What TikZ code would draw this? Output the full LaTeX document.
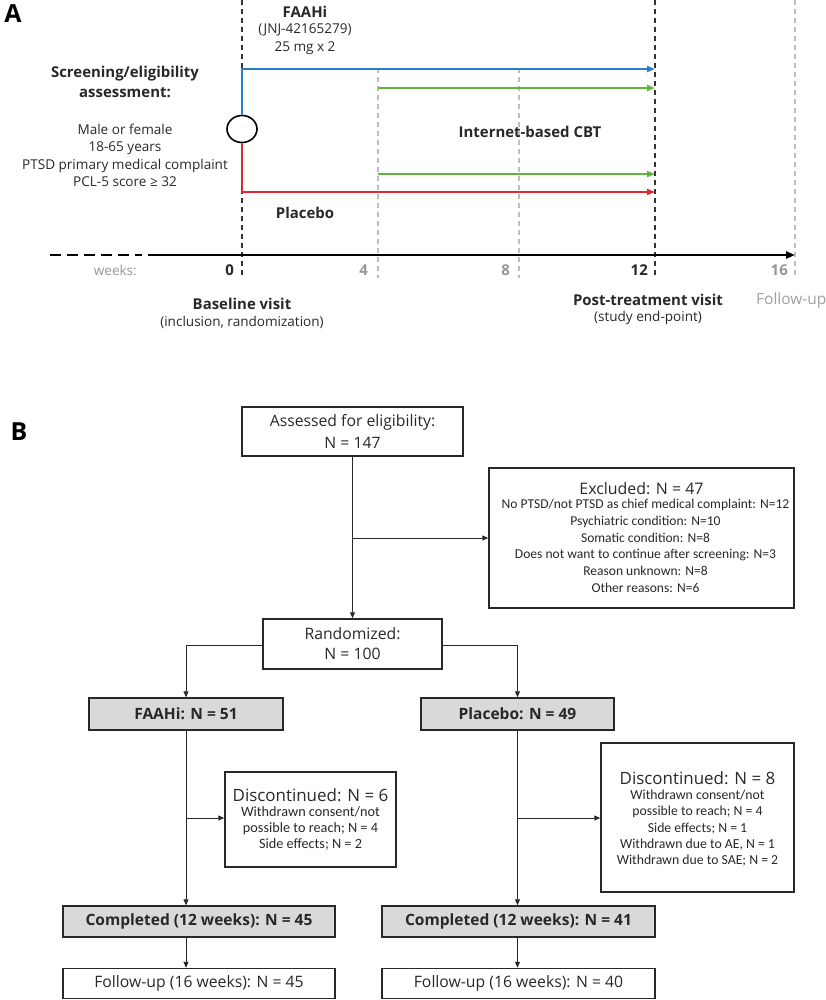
\documentclass[tikz,border=0pt]{standalone}
\usepackage{fontspec}
\setmainfont{Open Sans}
\newfontfamily\calib{Carlito}
\usetikzlibrary{arrows.meta,shapes.geometric}
\definecolor{cblue}{RGB}{40,125,205}
\definecolor{cgreen}{RGB}{95,180,60}
\definecolor{cred}{RGB}{225,40,50}
\definecolor{lgray}{RGB}{190,190,190}
\definecolor{tgray}{RGB}{150,150,150}
\definecolor{dark}{RGB}{40,40,40}
\definecolor{boxfill}{RGB}{217,217,217}
\begin{document}
\begin{tikzpicture}[x=1bp,y=-1bp,
  every node/.style={inner sep=0pt,text=dark},
  tl/.style={align=center,font=\fontsize{13.6}{17.5}\selectfont},
  tlb/.style={align=center,font=\fontsize{15}{20}\selectfont\bfseries},
  arm/.style={line width=2.4bp,-{Triangle[length=8bp,width=6bp]}},
  vdash/.style={line width=1.2bp,dash pattern=on 5bp off 4bp},
  fbox/.style={draw=dark,line width=1.5bp,align=center},
  gbox/.style={fbox,fill=boxfill,font=\fontsize{15.6}{18}\selectfont\bfseries},
  wbox/.style={fbox,font=\fontsize{15.8}{20}\selectfont},
  conn/.style={draw=dark,line width=0.9bp},
  arr/.style={conn,-{Triangle[length=6bp,width=5bp]}},
  ttl/.style={font=\fontsize{17}{19}\selectfont},
  det/.style={align=center,font=\calib\fontsize{14.3}{16.5}\selectfont}
]
\useasboundingbox (0,0) rectangle (826,1000);

%% ---------------- Panel A ----------------
\node[font=\fontsize{25}{25}\selectfont\bfseries,text=black] (labA) at (13,14) {A};

% vertical guide lines
\coordinate (w0t) at (242,0);   \coordinate (w0b) at (242,278);
\coordinate (w4t) at (378,68);  \coordinate (w4b) at (378,278);
\coordinate (w8t) at (519,68);  \coordinate (w8b) at (519,278);
\coordinate (w12t) at (655,0);  \coordinate (w12b) at (655,278);
\coordinate (w16t) at (795,0);  \coordinate (w16b) at (795,278);
\draw[vdash,lgray] (w4t) -- (w4b);
\draw[vdash,lgray] (w8t) -- (w8b);
\draw[vdash,lgray] (w16t) -- (w16b);
\draw[vdash,black!80] (w0t) -- (w0b);
\draw[vdash,black!80] (w12t) -- (w12b);

% randomization circle and arms
\node[draw=black,line width=1.6bp,ellipse,minimum width=30bp,minimum height=27bp,fill=white] (rnd) at (242,129) {};
\coordinate (bcorner) at (242,69);
\coordinate (bend) at (655,69);
\coordinate (rcorner) at (242,192);
\coordinate (rend) at (655,192);
\coordinate (g1s) at (378,88);  \coordinate (g1e) at (655,88);
\coordinate (g2s) at (378,174); \coordinate (g2e) at (655,174);
\draw[arm,cblue] (rnd.north) -- (bcorner) -- (bend);
\draw[arm,cred] (rnd.south) -- (rcorner) -- (rend);
\draw[arm,cgreen] (g1s) -- (g1e);
\draw[arm,cgreen] (g2s) -- (g2e);

% axis
\coordinate (ax0) at (50,255); \coordinate (ax1) at (142,255);
\coordinate (ax2) at (148,255); \coordinate (ax3) at (795,255);
\draw[line width=2.4bp,dash pattern=on 11bp off 6bp] (ax0) -- (ax1);
\draw[line width=2.4bp,-{Triangle[length=9bp,width=7bp]}] (ax2) -- (ax3);

% texts panel A
\node[tlb] (faahi) at (305,12) {FAAHi};
\node[tl] (jnj) at (305,30) {(JNJ-42165279)};
\node[tl] (dose) at (305,48) {25 mg x 2};
\node[tlb] (scr) at (125,82) {Screening/eligibility\\assessment:};
\node[tl] (crit) at (125,155.5) {Male or female\\18-65 years\\PTSD primary medical complaint\\PCL-5 score ≥ 32};
\node[tlb] (cbt) at (530,132) {Internet-based CBT};
\node[tlb] (plc) at (305,213) {Placebo};

\node[tl,text=tgray,anchor=east] (wk) at (137,270) {weeks:};
\node[tlb,anchor=east] (n0) at (234,270) {0};
\node[tlb,text=tgray,anchor=east] (n4) at (368,270) {4};
\node[tlb,text=tgray,anchor=east] (n8) at (510,270) {8};
\node[tlb,anchor=east] (n12) at (648,270) {12};
\node[tlb,text=tgray,anchor=east] (n16) at (788,270) {16};

\node[tlb] (bv) at (242,304) {Baseline visit};
\node[tl] (bv2) at (242,322) {(inclusion, randomization)};
\node[tlb] (pv) at (648,300) {Post-treatment visit};
\node[tl] (pv2) at (648,318) {(study end-point)};
\node[font=\fontsize{15.5}{17}\selectfont,text=tgray!90,anchor=west] (fu) at (756,300) {Follow-up};

%% ---------------- Panel B ----------------
\node[font=\fontsize{25}{25}\selectfont\bfseries,text=black] (labB) at (19,432) {B};

\node[wbox,font=\fontsize{15.8}{22}\selectfont,minimum width=221bp,minimum height=49bp] (assess) at (352.5,431.5)
  {Assessed for eligibility:\\N = 147};
\node[fbox,minimum width=305bp,minimum height=140bp] (excl) at (641.5,538) {};
\node[ttl,font=\fontsize{16}{19}\selectfont] (exclt) at (641.5,489) {Excluded: N = 47};
\node[det,font=\calib\fontsize{13.6}{16.8}\selectfont,anchor=north] (excld) at (645.5,499)
  {No PTSD/not PTSD as chief medical complaint: N=12\\
   Psychiatric condition: N=10\\Somatic condition: N=8\\
   Does not want to continue after screening: N=3\\
   Reason unknown: N=8\\Other reasons: N=6};
\node[wbox,minimum width=179bp,minimum height=50bp] (rand) at (352.5,644)
  {Randomized:\\N = 100};

\node[gbox,minimum width=194bp,minimum height=32bp] (fa) at (186,714) {FAAHi: N = 51};
\node[gbox,minimum width=193bp,minimum height=32bp] (pl) at (517.5,714) {Placebo: N = 49};

\node[fbox,minimum width=171bp,minimum height=95bp] (dfa) at (310.5,819.5) {};
\node[ttl] (dfat) at (310.5,795) {Discontinued: N = 6};
\node[det,anchor=north] (dfad) at (310.5,806)
  {Withdrawn consent/not\\possible to reach; N = 4\\Side effects; N = 2};
\node[fbox,minimum width=193bp,minimum height=149bp] (dpl) at (697.5,817.5) {};
\node[ttl] (dplt) at (697.5,778) {Discontinued: N = 8};
\node[det,font=\calib\fontsize{13.8}{16.3}\selectfont,anchor=north] (dpld) at (697.5,790)
  {Withdrawn consent/not\\possible to reach; N = 4\\Side effects; N = 1\\Withdrawn due to AE, N = 1\\Withdrawn due to SAE; N = 2};

\node[gbox,minimum width=272bp,minimum height=31bp] (cfa) at (199,921.5) {Completed (12 weeks): N = 45};
\node[gbox,minimum width=273bp,minimum height=31bp] (cpl) at (518.5,921.5) {Completed (12 weeks): N = 41};
\node[wbox,minimum width=272bp,minimum height=30bp] (ffa) at (199,983.5) {Follow-up (16 weeks): N = 45};
\node[wbox,minimum width=273bp,minimum height=30bp] (fpl) at (518.5,983.5) {Follow-up (16 weeks): N = 40};

% connectors
\coordinate (jx) at (352.5,538);
\draw[arr] (assess.south) -- (rand.north);
\draw[arr] (jx) -- (excl.west);
\draw[arr] (rand.west |- 0,645) -| (fa.north);
\draw[arr] (rand.east |- 0,645) -| (pl.north);
\coordinate (jfa) at (186,818);
\coordinate (jpl) at (517.5,818);
\draw[arr] (fa.south) -- (fa.south |- cfa.north);
\draw[arr] (jfa) -- (jfa -| dfa.west);
\draw[arr] (pl.south) -- (pl.south |- cpl.north);
\draw[arr] (jpl) -- (jpl -| dpl.west);
\draw[arr] (cfa.south -| fa.south) -- (ffa.north -| fa.south);
\draw[arr] (cpl.south -| pl.south) -- (fpl.north -| pl.south);
\end{tikzpicture}
\end{document}
